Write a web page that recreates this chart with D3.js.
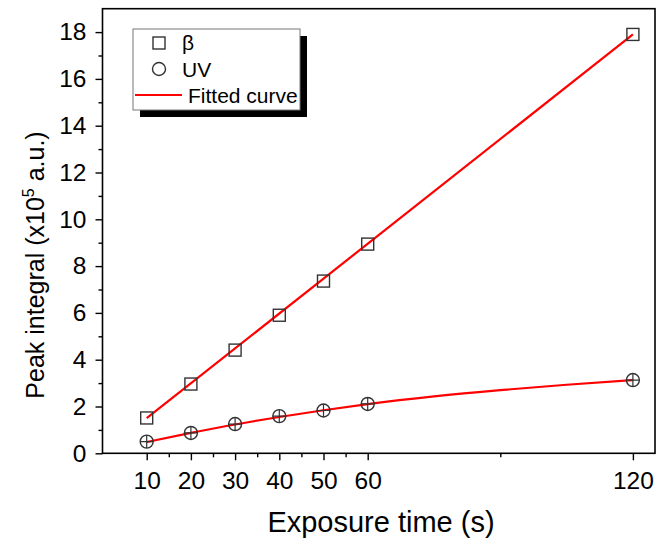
<!DOCTYPE html>
<html><head><meta charset="utf-8">
<script src="https://cdn.jsdelivr.net/npm/d3@7"></script>
<style>body{margin:0;background:#fff}svg{display:block}text{font-family:Arial,"Liberation Sans",sans-serif;fill:#000}</style>
</head><body><svg id="c" width="672" height="543"></svg>
<script>
const times = [10, 20, 30, 40, 50, 60, 120];
const betaValues = [1.51, 2.96, 4.41, 5.90, 7.36, 8.94, 17.9];
const uvValues = [0.50, 0.87, 1.25, 1.59, 1.83, 2.11, 3.13];
const betaFitX = [10, 120];
const betaFitY = [1.50, 17.9];
const uvFitX = [10, 20, 30, 40, 50, 60, 75, 90, 105, 120];
const uvFitY = [0.48, 0.87, 1.23, 1.55, 1.84, 2.10, 2.43, 2.70, 2.93, 3.13];
const xMajorTicks = [10, 20, 30, 40, 50, 60, 120];
const xMinorTicks = [15, 25, 35, 45, 55, 90];
const yMajorTicks = [0, 2, 4, 6, 8, 10, 12, 14, 16, 18];
const yMinorTicks = [1, 3, 5, 7, 9, 11, 13, 15, 17];
const legendLabels = ["β", "UV", "Fitted curve"];

const FONT = "Arial, 'Liberation Sans', sans-serif";
const svg = d3.select("#c");
const L = 102.5, R = 655, T = 8.7, B = 453.3;
const x = d3.scaleLinear().domain([0, 125]).range([L, R]);
const y = d3.scaleLinear().domain([0, 19]).range([B, T]);

// frame
svg.append("rect").attr("x", L).attr("y", T).attr("width", R - L).attr("height", B - T)
  .attr("fill", "none").attr("stroke", "#000").attr("stroke-width", 1.6);

// x axis
const gx = svg.append("g").attr("transform", `translate(0,${B})`);
gx.call(d3.axisBottom(x).tickValues(xMajorTicks).tickSize(7).tickPadding(11).tickFormat(d3.format("d")));
gx.append("g").call(d3.axisBottom(x).tickValues(xMinorTicks).tickSize(4).tickFormat(""));
gx.selectAll(".domain").remove();
gx.selectAll("line").attr("stroke", "#000").attr("stroke-width", 1.4);
gx.selectAll("text").attr("font-size", 24.5).attr("font-family", FONT).attr("fill", "#000");

// y axis
const gy = svg.append("g").attr("transform", `translate(${L},0)`);
gy.call(d3.axisLeft(y).tickValues(yMajorTicks).tickSize(7).tickPadding(9).tickFormat(d3.format("d")));
gy.append("g").call(d3.axisLeft(y).tickValues(yMinorTicks).tickSize(4).tickFormat(""));
gy.selectAll(".domain").remove();
gy.selectAll("line").attr("stroke", "#000").attr("stroke-width", 1.4);
gy.selectAll("text").attr("font-size", 24.5).attr("font-family", FONT).attr("fill", "#000");

// axis titles
svg.append("text").attr("x", 381).attr("y", 532).attr("text-anchor", "middle")
  .attr("font-size", 29).text("Exposure time (s)");
const yt = svg.append("text").attr("transform", `translate(44,265) rotate(-90)`)
  .attr("text-anchor", "middle").attr("font-size", 25);
yt.append("tspan").text("Peak integral (x10");
yt.append("tspan").attr("dy", -10).attr("font-size", 16).text("5");
yt.append("tspan").attr("dy", 10).text(" a.u.)");

// fitted curves
const line = d3.line().x(d => x(d[0])).y(d => y(d[1]));
const lineC = d3.line().x(d => x(d[0])).y(d => y(d[1])).curve(d3.curveMonotoneX);
svg.append("path").datum(d3.zip(betaFitX, betaFitY)).attr("d", line)
  .attr("fill", "none").attr("stroke", "#ff0000").attr("stroke-width", 2.2);
svg.append("path").datum(d3.zip(uvFitX, uvFitY)).attr("d", lineC)
  .attr("fill", "none").attr("stroke", "#ff0000").attr("stroke-width", 2.2);

const mk = "#333";
// beta squares
svg.append("g").selectAll("rect").data(d3.zip(times, betaValues)).join("rect")
  .attr("x", d => x(d[0]) - 6).attr("y", d => y(d[1]) - 6).attr("width", 12).attr("height", 12)
  .attr("fill", "none").attr("stroke", mk).attr("stroke-width", 1.4);
// UV circles with cross
const uvG = svg.append("g").selectAll("g").data(d3.zip(times, uvValues)).join("g")
  .attr("transform", d => `translate(${x(d[0])},${y(d[1])})`);
uvG.append("circle").attr("r", 6.5).attr("fill", "none").attr("stroke", mk).attr("stroke-width", 1.4);
uvG.append("path").attr("d", "M-6.5,0H6.5M0,-6.5V6.5").attr("stroke", mk).attr("stroke-width", 1.2);

// legend
const lg = svg.append("g");
lg.append("rect").attr("x", 140).attr("y", 36).attr("width", 167).attr("height", 81).attr("fill", "#000");
lg.append("rect").attr("x", 133).attr("y", 29).attr("width", 167).attr("height", 81)
  .attr("fill", "#fff").attr("stroke", "#777").attr("stroke-width", 1);
lg.append("rect").attr("x", 153).attr("y", 37).attr("width", 12).attr("height", 12)
  .attr("fill", "none").attr("stroke", mk).attr("stroke-width", 1.4);
lg.append("circle").attr("cx", 159).attr("cy", 69).attr("r", 6.5)
  .attr("fill", "none").attr("stroke", mk).attr("stroke-width", 1.4);
lg.append("line").attr("x1", 135).attr("x2", 182).attr("y1", 95).attr("y2", 95)
  .attr("stroke", "#ff0000").attr("stroke-width", 2);
const ly = [50, 77, 103];
legendLabels.forEach((t, i) => {
  lg.append("text").attr("x", i < 2 ? 182 : 188).attr("y", ly[i]).attr("font-size", 21).text(t);
});
</script></body></html>
